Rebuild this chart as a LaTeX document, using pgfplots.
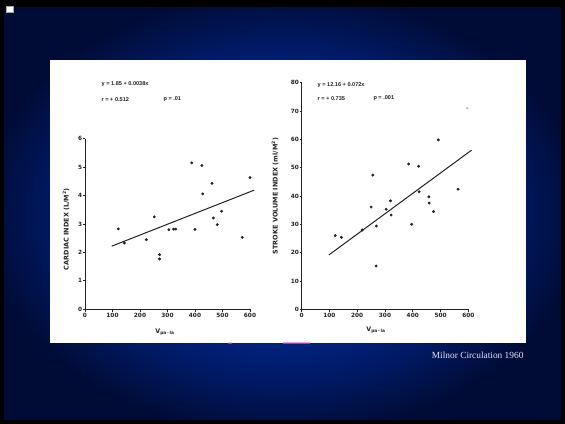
\documentclass[border=0pt]{standalone}
\usepackage{pgfplots}
\pgfplotsset{compat=1.18}
\usepackage{pgfplotstable}
\usepackage{fontspec}
\setmainfont{Liberation Serif}
\newfontfamily\lsans{Liberation Sans}
\newfontfamily\dsans{DejaVu Sans}
\definecolor{bgdark}{HTML}{000C36}
\definecolor{bgmid}{HTML}{001A66}
\definecolor{bgc}{HTML}{00268F}
\definecolor{bgcc}{HTML}{00299A}
\definecolor{ink}{HTML}{222222}
\pgfdeclareradialshading{slidebg}{\pgfpointorigin}{color(0bp)=(bgcc); color(13bp)=(bgc); color(20bp)=(bgmid); color(27bp)=(bgdark); color(50bp)=(bgdark)}

\pgfplotstableread{
x y
121 2.83
143 2.33
223 2.45
252 3.25
271 1.92
271 1.77
305 2.80
322 2.82
330 2.82
388 5.15
400 2.81
425 5.06
428 4.06
462 4.43
467 3.21
481 2.98
497 3.45
572 2.53
600 4.63
}\cidata

\pgfplotstableread{
x y
121 26.0
143 25.4
218 28.0
250 36.1
256 47.4
268 15.3
269 29.4
304 35.3
320 38.3
322 33.3
385 51.3
396 30.0
421 50.5
423 41.5
458 39.7
459 37.5
475 34.5
492 59.8
563 42.4
}\svidata

\pgfplotsset{
  scanaxis/.style={
    scale only axis, clip=false,
    axis lines*=left,
    axis line style={ink, line width=0.9pt, -},
    tick align=outside, major tick length=2.2bp,
    tick style={ink, line width=0.8pt},
    /pgf/number format/assume math mode=true,
    tick label style={font=\dsans\bfseries\fontsize{5.8}{6}\selectfont, text=ink},
    yticklabel style={inner sep=0.5pt},
    xticklabel style={inner sep=1.2pt},
    label style={font=\dsans\bfseries\fontsize{6.5}{7}\selectfont, text=ink},
    xlabel style={font=\dsans\bfseries\fontsize{6.3}{7}\selectfont},
  },
  pts/.style={only marks, mark=*, mark size=1.25bp, mark options={fill=ink, draw=ink}},
  fit/.style={no marks, ink, line width=1bp},
}
\tikzset{eq/.style={font=\lsans\bfseries\fontsize{5.6}{6}\selectfont, text=ink, anchor=west, inner sep=0pt}}

\begin{document}
\begin{tikzpicture}
% slide background
\fill[black] (0bp,0bp) rectangle (565bp,-424bp);
\shade[shading=slidebg] (4bp,-7bp) rectangle (561bp,-419bp);
\fill[white, draw=gray!70, line width=0.4bp] (6.5bp,-6.5bp) rectangle (13bp,-12bp);
% white panel
\fill[white] (50bp,-60bp) rectangle (526bp,-343bp);
\fill[magenta!60, opacity=0.6] (283bp,-341.6bp) rectangle (310bp,-343.5bp);
\fill[magenta!50, opacity=0.5] (228bp,-341.8bp) rectangle (232bp,-343.5bp);

% left plot
\begin{axis}[scanaxis,
  at={(85bp,-309.3bp)}, anchor=south west,
  width=165bp, height=170.6bp,
  xmin=0, xmax=600, ymin=0, ymax=6,
  xtick={0,100,...,600}, ytick={0,1,...,6},
  xlabel={V\textsubscript{pa\,-\,la}},
  ylabel={CARDIAC INDEX (L/M\textsuperscript{2})},
  xlabel style={at={(axis description cs:0.485,-0.133)}, anchor=center},
  ylabel style={at={(axis description cs:-0.115,0.47)}, anchor=center},
]
\addplot[pts] table[x=x,y=y] {\cidata};
\addplot[fit] coordinates {(97,2.22) (615,4.19)};
\node[eq] at (axis cs:60,7.91) {y = 1.85 + 0.0038x};
\node[eq] at (axis cs:60,7.39) {r = + 0.512};
\node[eq] at (axis cs:285,7.39) {p = .01};
\end{axis}

% right plot
\begin{axis}[scanaxis,
  at={(301.7bp,-309.3bp)}, anchor=south west,
  width=166.6bp, height=226.6bp,
  xmin=0, xmax=600, ymin=0, ymax=80,
  xtick={0,100,...,600}, ytick={0,10,...,80},
  xlabel={V\textsubscript{pa\,-\,la}},
  ylabel={STROKE VOLUME INDEX (ml/M\textsuperscript{2})},
  xlabel style={at={(axis description cs:0.446,-0.092)}, anchor=center},
  ylabel style={at={(axis description cs:-0.16,0.5)}, anchor=center},
]
\addplot[pts] table[x=x,y=y] {\svidata};
\addplot[only marks, mark=*, mark size=0.9bp, mark options={fill=gray!55, draw=gray!55}] coordinates {(596,71.0)};
\addplot[fit] coordinates {(98,19.2) (612,56.2)};
\node[eq] at (axis cs:57,79.2) {y = 12.16 + 0.072x};
\node[eq] at (axis cs:57,74.5) {r = + 0.735};
\node[eq] at (axis cs:258,74.5) {p = .001};
\end{axis}

\node[anchor=west, inner sep=0pt, text=white!90!blue, font=\fontsize{9.4}{11}\selectfont] at (431.7bp,-355bp) {Milnor Circulation 1960};
\end{tikzpicture}
\end{document}
